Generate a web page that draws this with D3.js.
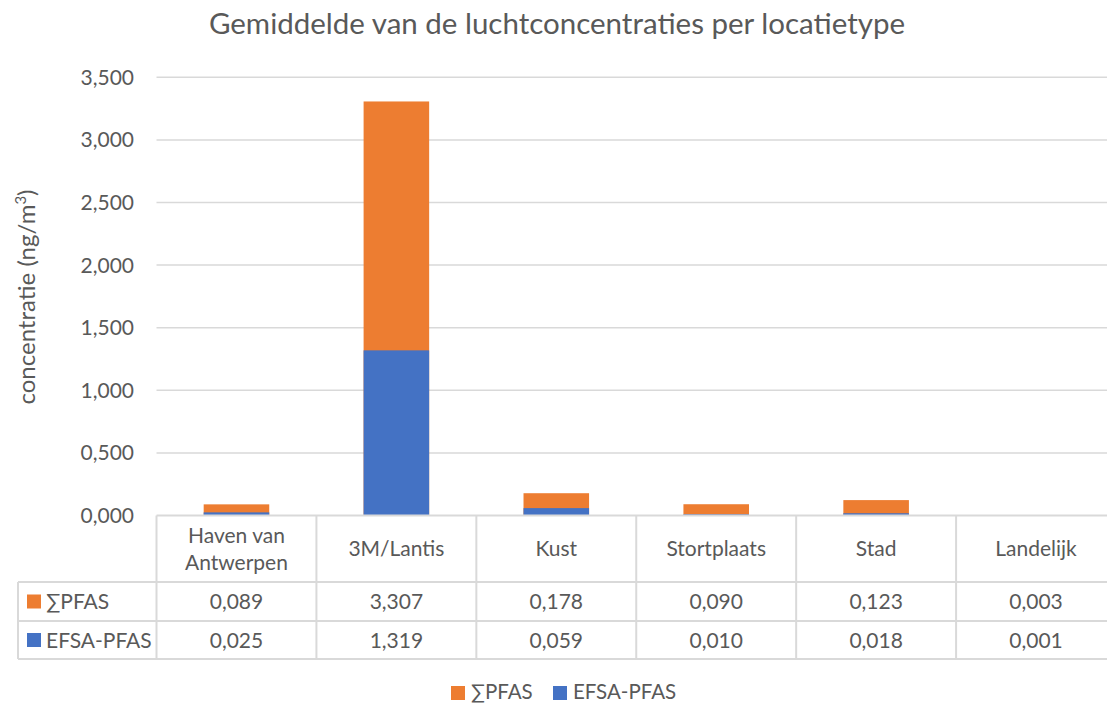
<!DOCTYPE html>
<meta charset="utf-8">
<style>
html, body { margin: 0; padding: 0; background: #fff; }
body { font-family: Lato, 'Open Sans', sans-serif; }
svg text { fill: #595959; }
</style>
<body>
<script src="https://cdn.jsdelivr.net/npm/d3@7"></script>
<script>
// data
var categories = ["Haven van Antwerpen", "3M/Lantis", "Kust", "Stortplaats", "Stad", "Landelijk"];
var sumPfas  = [0.089, 3.307, 0.178, 0.090, 0.123, 0.003];
var efsaPfas = [0.025, 1.319, 0.059, 0.010, 0.018, 0.001];
var yTicks = [0, 0.5, 1, 1.5, 2, 2.5, 3, 3.5];
var seriesNames = ["\u2211PFAS", "EFSA-PFAS"];
var colors = ["#ED7D31", "#4472C4"];

var W = 1107, H = 704;
var left = 156.5, right = 1116, y0 = 515.5, yTop = 77.3;
var rowA = 582, rowB = 621, rowC = 659, tableLeft = 18;
var grid = "#d9d9d9";

var nl = d3.formatLocale({decimal: ",", thousands: ".", grouping: [3], currency: ["€", ""]});
var fmt = nl.format(".3f");

var svg = d3.select("body").append("svg")
  .attr("width", W)
  .attr("height", H);

var x = d3.scaleBand().domain(categories).range([left, right]).padding(0);
var y = d3.scaleLinear().domain([0, 3.5]).range([y0, yTop]);
var barW = x.bandwidth() * 0.41;

// title
svg.append("text")
  .attr("x", 557)
  .attr("y", 34)
  .attr("text-anchor", "middle")
  .attr("font-size", "29.5px")
  .text("Gemiddelde van de luchtconcentraties per locatietype");

// gridlines
svg.selectAll("line.grid")
  .data(yTicks.slice(1))
  .enter().append("line")
  .attr("class", "grid")
  .attr("x1", left).attr("x2", right)
  .attr("y1", function(d) { return y(d); })
  .attr("y2", function(d) { return y(d); })
  .attr("stroke", grid)
  .attr("stroke-width", 1.5);

// y tick labels
svg.selectAll("text.ytick")
  .data(yTicks)
  .enter().append("text")
  .attr("class", "ytick")
  .attr("x", 134)
  .attr("y", function(d) { return y(d); })
  .attr("dy", "0.36em")
  .attr("text-anchor", "end")
  .attr("font-size", "21px")
  .text(function(d) { return fmt(d); });

// y axis title
svg.append("text")
  .attr("transform", "translate(35,297) rotate(-90)")
  .attr("text-anchor", "middle")
  .attr("font-size", "24px")
  .html("concentratie (ng/m<tspan dy='-9' font-size='15px'>3</tspan><tspan dy='9'>)</tspan>");

// bars: EFSA drawn over ∑PFAS, both from zero (100% overlap)
var allSeries = [sumPfas, efsaPfas];
allSeries.forEach(function(vals, s) {
  svg.selectAll("rect.s" + s)
    .data(vals)
    .enter().append("rect")
    .attr("class", "s" + s)
    .attr("x", function(d, i) { return x(categories[i]) + (x.bandwidth() - barW) / 2; })
    .attr("width", barW)
    .attr("y", function(d) { return y(d); })
    .attr("height", function(d) { return y0 - y(d); })
    .attr("fill", colors[s]);
});

// data table lines
var t = svg.append("g").attr("stroke", grid).attr("stroke-width", 2);
t.append("line").attr("x1", left).attr("x2", right).attr("y1", y0).attr("y2", y0);
[rowA, rowB, rowC].forEach(function(r) {
  t.append("line").attr("x1", tableLeft).attr("x2", right).attr("y1", r).attr("y2", r);
});
t.append("line").attr("x1", tableLeft).attr("x2", tableLeft).attr("y1", rowA).attr("y2", rowC);
categories.forEach(function(c) {
  t.append("line").attr("x1", x(c)).attr("x2", x(c)).attr("y1", y0).attr("y2", rowC);
});
t.append("line").attr("x1", right).attr("x2", right).attr("y1", y0).attr("y2", rowC);

// category headers
categories.forEach(function(c) {
  var cx = x(c) + x.bandwidth() / 2;
  var words = c === "Haven van Antwerpen" ? ["Haven van", "Antwerpen"] : [c];
  var txt = svg.append("text")
    .attr("text-anchor", "middle")
    .attr("font-size", "21px");
  words.forEach(function(w, k) {
    txt.append("tspan")
      .attr("x", cx)
      .attr("y", (y0 + rowA) / 2 + (k - (words.length - 1) / 2) * 27)
      .attr("dy", "0.36em")
      .text(w);
  });
});

// table rows
var rowMid = [(rowA + rowB) / 2, (rowB + rowC) / 2];
allSeries.forEach(function(vals, s) {
  svg.append("rect")
    .attr("x", 27).attr("y", rowMid[s] - 7)
    .attr("width", 14).attr("height", 14)
    .attr("fill", colors[s]);
  svg.append("text")
    .attr("x", 46).attr("y", rowMid[s])
    .attr("dy", "0.36em")
    .attr("font-size", "21px")
    .text(seriesNames[s]);
  svg.selectAll("text.v" + s)
    .data(vals)
    .enter().append("text")
    .attr("class", "v" + s)
    .attr("x", function(d, i) { return x(categories[i]) + x.bandwidth() / 2; })
    .attr("y", rowMid[s])
    .attr("dy", "0.36em")
    .attr("text-anchor", "middle")
    .attr("font-size", "21px")
    .text(function(d) { return fmt(d); });
});

// legend
var legendX = [451, 553];
seriesNames.forEach(function(n, s) {
  svg.append("rect")
    .attr("x", legendX[s]).attr("y", 686)
    .attr("width", 14).attr("height", 14)
    .attr("fill", colors[s]);
  svg.append("text")
    .attr("x", legendX[s] + 20).attr("y", 692)
    .attr("dy", "0.36em")
    .attr("font-size", "20.5px")
    .text(n);
});
</script>
</body>
